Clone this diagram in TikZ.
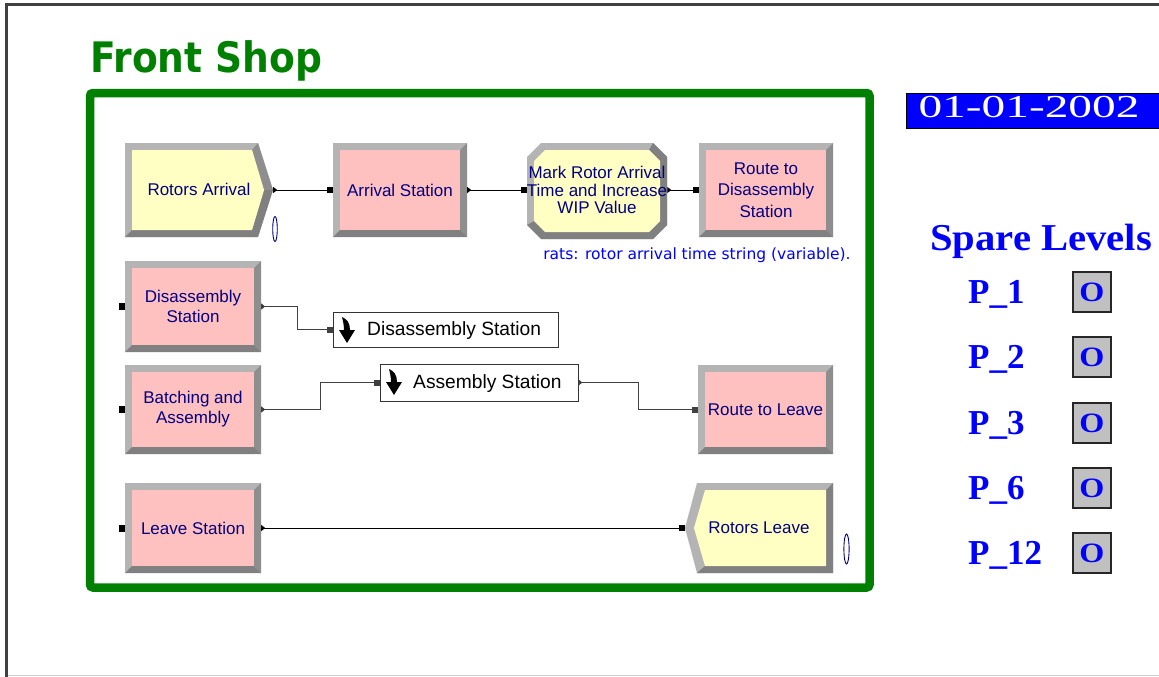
\documentclass[tikz,border=0pt]{standalone}
\usepackage{fontspec}
\setmainfont{Liberation Sans}
\newfontfamily\titlefont{DejaVu Sans}
\newfontfamily\notefont{DejaVu Sans}
\newfontfamily\serifface{Liberation Serif}
\usetikzlibrary{arrows.meta}
\definecolor{modyellow}{HTML}{FFFFC4}
\definecolor{modpink}{HTML}{FFC0C0}
\definecolor{bevL}{HTML}{B4B4B4}
\definecolor{bevD}{HTML}{808080}
\definecolor{bevM}{HTML}{8E8E8E}
\definecolor{navytext}{HTML}{000080}
\definecolor{frgreen}{HTML}{008000}
\definecolor{pureblue}{HTML}{0000FF}
\definecolor{boxgray}{HTML}{C0C0C0}
\definecolor{linegray}{HTML}{404040}

% bevelled Arena module: [node opts]{name}{x1}{y1}{x2}{y2}{fill}{text}
\newcommand\abox[8][]{%
  \fill[bevL] (#3,#4) rectangle (#5,#6);
  \fill[bevM] (#5,#4) -- (#5,#6) -- (#5-7,#6-7) -- (#5-7,#4+7) -- cycle;
  \fill[bevD] (#3,#6) -- (#5,#6) -- (#5-7,#6-7) -- (#3+7,#6-7) -- cycle;
  \fill[#7] (#3+7,#4+7) rectangle (#5-7,#6-7);
  \node[modtext, minimum width=#5-#3, minimum height=#6-#4, #1] (#2) at ({(#3+#5)/2},{(#4+#6)/2}) {#8};
}
% station icon: bent down arrow, top-left corner
\newcommand\stationicon[2]{%
  \fill[black] (#1+3,#2) .. controls (#1+8,#2+2) and (#1+11,#2+6) .. (#1+11,#2+13)
     -- (#1+16,#2+13) -- (#1+8,#2+26) -- (#1,#2+13) -- (#1+5,#2+13)
     .. controls (#1+5,#2+8) and (#1+4,#2+4) .. (#1+3,#2) -- cycle;
}

\begin{document}
\begin{tikzpicture}[x=1pt,y=-1pt,
  modtext/.style={inner sep=0pt, text=navytext, align=center, font=\fontsize{17}{19}\selectfont},
  stbox/.style={draw=black!80, fill=white, line width=0.8pt, inner sep=0pt},
  sttext/.style={inner sep=0pt, text=black, font=\fontsize{19.2}{20}\selectfont},
  conn/.style={line width=0.9pt, black, {Triangle[reversed,length=4pt,width=6pt]}-{Square[length=6pt,width=6pt]}},
  connE/.style={line width=0.9pt, linegray, {Triangle[reversed,length=4pt,width=6pt]}-{Square[length=6pt,width=6pt]}},
  inmark/.style={fill=black},
  plabel/.style={anchor=base west, inner sep=0pt, text=pureblue},
  valbox/.style={draw=black!85, fill=boxgray, line width=1.2pt, minimum width=38, minimum height=40, inner sep=0pt, text=pureblue}
]
\useasboundingbox (0,0) rectangle (1159,677);
\fill[white] (0,0) rectangle (1159,677);

% page frame
\draw[line width=3pt, black!75] (6,690) -- (6,4.5) -- (1170,4.5);
\draw[line width=1.5pt, black!18] (7.5,675.5) -- (1170,675.5);

% title
\node[anchor=base west, inner sep=0pt, text=frgreen] (title) at (90,73)
  {\scalebox{0.895}[1]{\titlefont\bfseries\fontsize{42}{42}\selectfont Front Shop}};

% green frame
\draw[frgreen, line width=8.5pt, rounded corners=3pt] (90,93) rectangle (869.5,587.5);

% ---- Create: Rotors Arrival
\fill[bevL] (125,143) -- (258,143) -- (273,190) -- (258,237) -- (125,237) -- cycle;
\fill[bevM] (258,143) -- (273,190) -- (264,190) -- (252,150) -- cycle;
\fill[bevD] (273,190) -- (258,237) -- (125,237) -- (132,230) -- (252,230) -- (264,190) -- cycle;
\fill[modyellow] (132,150) -- (252,150) -- (264,190) -- (252,230) -- (132,230) -- cycle;
\node[modtext, minimum width=148, minimum height=94] (ra) at (199,190) {\raisebox{2pt}{Rotors Arrival}};
\draw[navytext, line width=0.9pt] (275,229) ellipse [x radius=2.3, y radius=12.5];

% ---- Arrival Station
\abox{as}{333}{143}{467}{237}{modpink}{Arrival Station}

% ---- Assign (octagon)
\fill[bevL] (541,143) -- (653,143) -- (667,157) -- (667,225) -- (653,239) -- (541,239) -- (527,225) -- (527,157) -- cycle;
\fill[bevD] (653,143) -- (667,157) -- (667,225) -- (653,239) -- (541,239) -- (527,225)
   -- (534,221) -- (545,232) -- (649,232) -- (660,221) -- (660,161) -- (649,150) -- cycle;
\fill[modyellow] (545,150) -- (649,150) -- (660,161) -- (660,221) -- (649,232) -- (545,232) -- (534,221) -- (534,161) -- cycle;
\node[modtext, minimum width=140, minimum height=96, font=\fontsize{17}{17.5}\selectfont] (asg) at (597,190)
  {Mark Rotor Arrival\\Time and Increase\\WIP Value};

% ---- Route to Disassembly Station
\abox[font=\fontsize{17}{21.5}\selectfont]{rds}{699}{143}{833}{237}{modpink}{Route to\\Disassembly\\Station}

% note
\node[anchor=base, inner sep=0pt, text=pureblue, font=\notefont\fontsize{15.5}{15.5}\selectfont] (note) at (697,259)
  {rats: rotor arrival time string (variable).};

% ---- Disassembly Station (module)
\abox[font=\fontsize{17}{20}\selectfont]{dss}{125}{261}{261}{352}{modpink}{Disassembly\\Station}
\fill[inmark] (119,302.5) rectangle (125,309.5);

% ---- Disassembly Station (station)
\node[stbox, minimum width=225, minimum height=35] (ds) at (445.5,329.5) {};
\stationicon{339}{317}
\node[sttext, anchor=west] (dst) at (367,330.5) {Disassembly Station};

% ---- Batching and Assembly
\abox[font=\fontsize{17}{20}\selectfont]{ba}{125}{365}{261}{454}{modpink}{Batching and\\Assembly}
\fill[inmark] (119,406) rectangle (125,413);

% ---- Assembly Station (station)
\node[stbox, minimum width=198, minimum height=37] (asb) at (479,382.5) {};
\stationicon{386}{369}
\node[sttext, anchor=west] (asbt) at (413,383.5) {Assembly Station};

% ---- Route to Leave
\abox{rtl}{698}{365}{833}{454}{modpink}{Route to Leave}

% ---- Leave Station
\abox{ls}{125}{483}{261}{573}{modpink}{Leave Station}
\fill[inmark] (119,524.5) rectangle (125,531.5);

% ---- Dispose: Rotors Leave
\fill[bevL] (697,483) -- (833,483) -- (833,573) -- (697,573) -- (685,528) -- cycle;
\fill[bevD] (833,483) -- (833,573) -- (697,573) -- (705,566) -- (826,566) -- (826,490) -- cycle;
\fill[modyellow] (705,490) -- (826,490) -- (826,566) -- (705,566) -- (694,528) -- cycle;
\node[modtext, minimum width=148, minimum height=90] (rl) at (759,528) {Rotors Leave};
\draw[navytext, line width=0.9pt] (846.5,549) ellipse [x radius=2.6, y radius=15];

% ---- connectors
\draw[conn] (ra.east) -- (as.west);
\draw[conn] (as.east) -- (asg.west);
\draw[conn] (asg.east) -- (rds.west);
\draw[connE] (dss.east) -- ++(36,0) |- (ds.west);
\draw[connE] (ba.east) -- ++(59,0) |- (asb.west);
\draw[connE] (asb.east) -- ++(60,0) |- (rtl.west);
\draw[conn] (ls.east) -- (rl.west);

% ---- date
\node[fill=pureblue, draw=black, line width=1pt, minimum width=270, minimum height=35, anchor=north west, inner sep=0pt] (date) at (906,93) {};
\node[anchor=base, inner sep=0pt, text=white] (datetxt) at (1029,117)
  {\scalebox{1.48}[1]{\serifface\fontsize{32}{32}\selectfont 01-01-2002}};

% ---- spare levels
\node[anchor=base west, inner sep=0pt, text=pureblue] (spare) at (930,250)
  {\scalebox{1.07}[1]{\serifface\bfseries\fontsize{38}{38}\selectfont Spare Levels}};

\foreach \lab/\cy/\nm in {P\_1/292/a, P\_2/357/b, P\_3/423/c, P\_6/488/d, P\_12/553/e}{
  \node[plabel] (plab\nm) at (968,\cy+11.5) {\serifface\bfseries\fontsize{35}{35}\selectfont \lab};
  \node[valbox] (val\nm) at (1092,\cy) {\raisebox{-2pt}{\scalebox{1.15}[1]{\serifface\bfseries\fontsize{28}{28}\selectfont O}}};
}
\end{tikzpicture}
\end{document}
